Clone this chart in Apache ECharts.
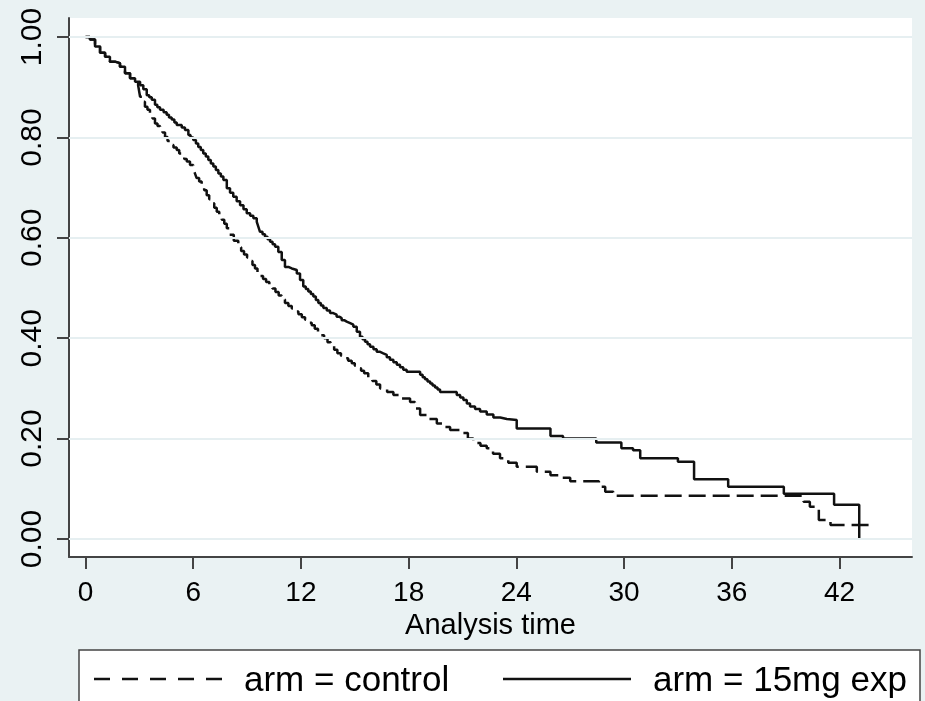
<!DOCTYPE html>
<html>
<head>
<meta charset="utf-8">
<script src="https://cdn.jsdelivr.net/npm/echarts@6/dist/echarts.min.js"></script>
<style>
  html, body { margin: 0; padding: 0; background: #eaf2f3; }
  #chart { width: 925px; height: 701px; }
</style>
</head>
<body>
<div id="chart"></div>
<script>
// Kaplan-Meier survival estimates by treatment arm (event time, survival after event)
const seriesNames = ['arm = control', 'arm = 15mg exp'];

const controlTime = [0, 0.25, 0.53, 0.81, 1.09, 1.36, 1.64, 1.92, 2.2, 2.48, 2.76, 2.93,
  3.04, 3.17, 3.31, 3.45, 3.59, 3.73, 3.87, 4.01, 4.15, 4.29, 4.43, 4.57, 4.71, 4.9, 5.08, 5.22, 5.36, 5.5, 5.64, 5.82,
  6.0, 6.1, 6.19, 6.33, 6.47, 6.61, 6.75, 6.89, 7.03, 7.17, 7.31, 7.45, 7.59, 7.73, 7.87, 8.01, 8.26, 8.51, 8.67, 8.83,
  9.0, 9.16, 9.3, 9.44, 9.58, 9.72, 9.89, 10.06, 10.24, 10.41, 10.58, 10.76, 10.93, 11.11, 11.3, 11.49, 11.67, 11.86,
  12.05, 12.23, 12.42, 12.6, 12.77, 12.95, 13.12, 13.29, 13.48, 13.66, 13.85, 14.03, 14.23, 14.43, 14.63, 14.83,
  15.0, 15.17, 15.35, 15.52, 15.75, 15.98, 16.2, 16.41, 16.8, 17.15, 17.6, 18.08, 18.35, 18.64, 19.1, 19.57, 19.95,
  20.31, 21.05, 21.3, 21.6, 22.0, 22.35, 22.7, 23.09, 23.55, 24.02, 25.14, 25.9, 26.5, 27.0, 28.6, 28.95, 29.4,
  40.0, 40.35, 40.85, 41.5, 43.8];
const controlSurv = [1.000, 0.995, 0.981, 0.969, 0.961, 0.951, 0.948, 0.941, 0.928, 0.918, 0.911, 0.904,
  0.881, 0.871, 0.861, 0.855, 0.848, 0.838, 0.828, 0.823, 0.818, 0.810, 0.801, 0.793, 0.785, 0.780, 0.775, 0.768, 0.762, 0.757, 0.752, 0.745,
  0.738, 0.728, 0.719, 0.712, 0.705, 0.695, 0.685, 0.677, 0.669, 0.660, 0.652, 0.645, 0.636, 0.628, 0.619, 0.606, 0.594, 0.581, 0.574, 0.567,
  0.561, 0.554, 0.546, 0.539, 0.531, 0.524, 0.518, 0.512, 0.505, 0.499, 0.492, 0.485, 0.477, 0.470, 0.464, 0.459, 0.453, 0.448,
  0.442, 0.437, 0.431, 0.426, 0.419, 0.413, 0.406, 0.400, 0.392, 0.385, 0.377, 0.370, 0.365, 0.360, 0.355, 0.350,
  0.345, 0.340, 0.335, 0.330, 0.322, 0.315, 0.308, 0.300, 0.293, 0.287, 0.280, 0.273, 0.260, 0.247, 0.239, 0.230, 0.223,
  0.217, 0.211, 0.200, 0.191, 0.186, 0.181, 0.170, 0.161, 0.152, 0.144, 0.134, 0.127, 0.122, 0.115, 0.104, 0.094, 0.086,
  0.074, 0.064, 0.038, 0.028, 0.028];

const expTime = [0, 0.25, 0.53, 0.81, 1.09, 1.36, 1.64, 1.92, 2.2, 2.48, 2.76,
  3.04, 3.22, 3.41, 3.55, 3.69, 3.87, 4.0, 4.15, 4.35, 4.52, 4.65, 4.8, 4.95, 5.08, 5.36, 5.54, 5.73, 5.85,
  6.0, 6.15, 6.28, 6.42, 6.56, 6.7, 6.84, 6.98, 7.12, 7.26, 7.4, 7.54, 7.68, 7.87, 8.05, 8.23, 8.42, 8.61, 8.8, 8.98,
  9.17, 9.35, 9.54, 9.63, 9.72, 9.86, 10.0, 10.14, 10.28, 10.42, 10.56, 10.74, 10.93, 11.11, 11.3, 11.49, 11.77, 11.95,
  12.13, 12.27, 12.41, 12.55, 12.69, 12.83, 12.97, 13.11, 13.25, 13.44, 13.62, 13.8, 13.99, 14.13, 14.27, 14.41, 14.55, 14.74, 14.92,
  15.11, 15.29, 15.43, 15.57, 15.71, 15.85, 16.04, 16.22, 16.41, 16.59, 16.78, 16.96, 17.15, 17.34, 17.52, 17.7, 17.89,
  18.64, 18.78, 18.91, 19.05, 19.2, 19.33, 19.47, 19.61, 19.75, 20.68, 20.87, 21.05, 21.24, 21.42, 21.7, 21.98, 22.35, 22.72,
  23.1, 23.47, 24.02, 25.9, 26.6, 28.45, 29.85, 30.5, 30.9, 33.0, 33.9, 35.8, 38.9, 41.7, 43.1];
const expSurv = [1.000, 0.995, 0.981, 0.969, 0.961, 0.951, 0.948, 0.941, 0.928, 0.918, 0.911,
  0.904, 0.896, 0.884, 0.880, 0.875, 0.865, 0.860, 0.855, 0.850, 0.845, 0.840, 0.836, 0.830, 0.825, 0.820, 0.815, 0.805, 0.800,
  0.795, 0.788, 0.781, 0.775, 0.768, 0.762, 0.755, 0.748, 0.742, 0.735, 0.728, 0.722, 0.715, 0.699, 0.690, 0.682, 0.673, 0.665, 0.657, 0.649,
  0.644, 0.639, 0.632, 0.622, 0.612, 0.607, 0.602, 0.597, 0.592, 0.587, 0.582, 0.572, 0.556, 0.542, 0.539, 0.536, 0.529, 0.516,
  0.503, 0.498, 0.493, 0.488, 0.483, 0.476, 0.470, 0.465, 0.460, 0.455, 0.450, 0.447, 0.443, 0.440, 0.436, 0.433, 0.430, 0.427, 0.423,
  0.413, 0.403, 0.398, 0.393, 0.388, 0.383, 0.378, 0.373, 0.370, 0.367, 0.362, 0.357, 0.352, 0.347, 0.342, 0.337, 0.333,
  0.327, 0.322, 0.318, 0.314, 0.310, 0.306, 0.302, 0.298, 0.293, 0.287, 0.282, 0.277, 0.270, 0.264, 0.259, 0.254, 0.248, 0.242,
  0.239, 0.237, 0.220, 0.205, 0.200, 0.192, 0.181, 0.177, 0.161, 0.154, 0.119, 0.104, 0.090, 0.068, 0.000];

const xTicks = [0, 6, 12, 18, 24, 30, 36, 42];
const yTicks = [0, 0.2, 0.4, 0.6, 0.8, 1.0];
const xTitle = 'Analysis time';

const zip = (xs, ys) => xs.map((x, i) => [x, ys[i]]);
const FONT = '"Liberation Sans", Arial, Helvetica, sans-serif';
const INK = '#111111';
const AXIS = '#444444';
const CURVE_W = 2.5;
const CONTROL_DASH = [17, 7];

const chart = echarts.init(document.getElementById('chart'), null, { renderer: 'canvas' });

// legend texts come from the legend component; its own icons are hidden and
// replaced by key lines drawn at full stroke width in the box below
const legendBase = {
  top: 664, padding: 0, itemWidth: 128, itemHeight: 12, selectedMode: false, z: 5,
  itemStyle: { opacity: 0 },
  lineStyle: { opacity: 0 },
  textStyle: { fontSize: 35, color: '#000', fontFamily: FONT, padding: [0, 0, 0, 16] }
};
const keyY = 679;

chart.setOption({
  animation: false,
  backgroundColor: '#eaf2f3',
  textStyle: { fontFamily: FONT },
  grid: {
    left: 69, right: 13, top: 18, bottom: 144,
    show: true, backgroundColor: '#ffffff', borderWidth: 0
  },
  xAxis: {
    type: 'value',
    min: -0.92, max: 46.04,
    name: xTitle,
    nameLocation: 'middle',
    nameGap: 50,
    nameTextStyle: { fontSize: 29, color: '#000', fontFamily: FONT },
    axisLine: { show: true, onZero: false, lineStyle: { color: AXIS, width: 2 } },
    axisTick: { show: true, length: 12, customValues: xTicks, lineStyle: { color: AXIS, width: 2 } },
    axisLabel: { customValues: xTicks, fontSize: 28, color: '#000', margin: 22, fontFamily: FONT },
    splitLine: { show: false }
  },
  yAxis: {
    type: 'value',
    min: -0.0359, max: 1.038,
    axisLine: { show: true, onZero: false, lineStyle: { color: AXIS, width: 2 } },
    axisTick: { show: true, length: 12, customValues: yTicks, lineStyle: { color: AXIS, width: 2 } },
    axisLabel: {
      customValues: yTicks, rotate: 90, fontSize: 30, color: '#000', margin: 21, fontFamily: FONT,
      formatter: v => v.toFixed(2)
    },
    splitLine: { show: false }
  },
  legend: [
    Object.assign({}, legendBase, { left: 94, data: [{ name: seriesNames[0] }] }),
    Object.assign({}, legendBase, { left: 503, data: [{ name: seriesNames[1] }] })
  ],
  graphic: [
    {
      type: 'rect', z: 1, silent: true,
      shape: { x: 79, y: 650, width: 841, height: 70 },
      style: { fill: '#ffffff', stroke: '#444444', lineWidth: 1.5 }
    },
    {
      type: 'line', z: 6, silent: true,
      shape: { x1: 94, y1: keyY, x2: 222, y2: keyY },
      style: { stroke: INK, lineWidth: CURVE_W, lineDash: [16, 12] }
    },
    {
      type: 'line', z: 6, silent: true,
      shape: { x1: 503, y1: keyY, x2: 631, y2: keyY },
      style: { stroke: INK, lineWidth: CURVE_W }
    }
  ],
  series: [
    {
      // horizontal reference lines at the labelled survival levels
      name: 'gridlines', type: 'line', data: [], z: 1, silent: true,
      markLine: {
        silent: true, symbol: 'none', animation: false,
        label: { show: false },
        lineStyle: { color: '#e6eff1', width: 2, type: 'solid' },
        emphasis: { disabled: true },
        data: yTicks.map(v => ({ yAxis: v }))
      }
    },
    {
      name: seriesNames[0], type: 'line', step: 'end', symbol: 'none', z: 3,
      lineStyle: { color: INK, width: CURVE_W, type: CONTROL_DASH },
      itemStyle: { color: INK },
      emphasis: { disabled: true },
      data: zip(controlTime, controlSurv)
    },
    {
      name: seriesNames[1], type: 'line', step: 'end', symbol: 'none', z: 4,
      lineStyle: { color: INK, width: CURVE_W, type: 'solid' },
      itemStyle: { color: INK },
      emphasis: { disabled: true },
      data: zip(expTime, expSurv)
    }
  ]
});
</script>
</body>
</html>
